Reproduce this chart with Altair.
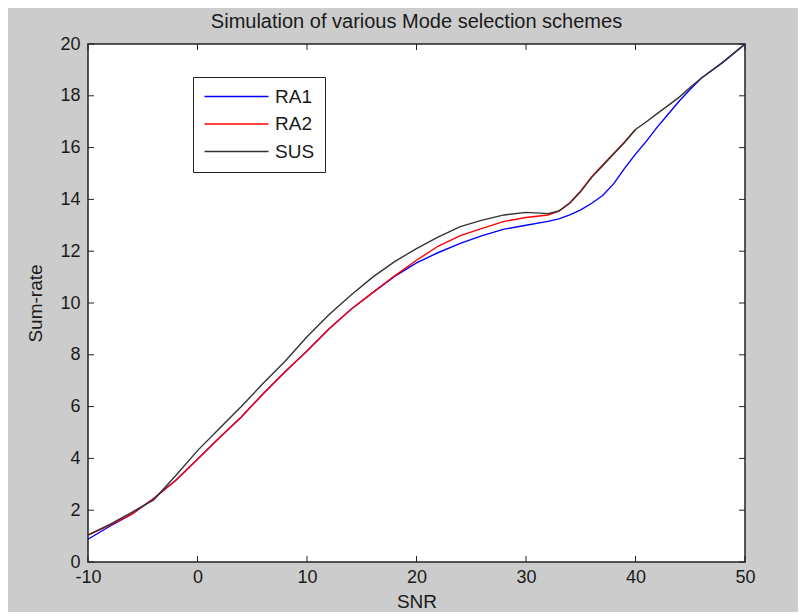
import altair as alt
import pandas as pd

# ---- data ----
snr = [-10, -8, -6, -4, -2, 0, 2, 4, 6, 8, 10, 12, 14, 16, 18, 20, 22, 24, 26, 28, 30,
       32, 33, 34, 35, 36, 37, 38, 39, 40, 41, 42, 43, 44, 45, 46, 48, 50]
ra1 = [0.88, 1.38, 1.85, 2.45, 3.15, 3.97, 4.8, 5.6, 6.5, 7.35, 8.15, 9.0, 9.75, 10.4, 11.03,
       11.55, 11.95, 12.3, 12.6, 12.85, 13.0, 13.15, 13.25, 13.4, 13.6, 13.85, 14.15, 14.6,
       15.2, 15.75, 16.25, 16.8, 17.3, 17.8, 18.25, 18.68, 19.3, 20.0]
ra2 = [1.04, 1.42, 1.85, 2.45, 3.15, 3.97, 4.8, 5.6, 6.5, 7.35, 8.15, 9.0, 9.75, 10.4, 11.05,
       11.65, 12.2, 12.6, 12.88, 13.15, 13.3, 13.4, 13.55, 13.87, 14.33, 14.88, 15.33, 15.77,
       16.22, 16.7, None, None, None, None, None, None, None, None]
sus = [1.04, 1.45, 1.92, 2.4, 3.33, 4.3, 5.15, 6.0, 6.9, 7.75, 8.7, 9.55, 10.3, 11.0, 11.6,
       12.1, 12.55, 12.95, 13.2, 13.4, 13.5, 13.45, 13.55, 13.85, 14.3, 14.85, 15.3, 15.75,
       16.2, 16.7, 17.0, 17.32, 17.63, 17.95, 18.33, 18.68, 19.3, 20.0]
series = ["RA1", "RA2", "SUS"]
colors = ["#0000ff", "#ff0000", "#333333"]
x_ticks = [-10, 0, 10, 20, 30, 40, 50]
y_ticks = [0, 2, 4, 6, 8, 10, 12, 14, 16, 18, 20]

rows = []
for name, vals in zip(series, [ra1, ra2, sus]):
    for x, y in zip(snr, vals):
        if y is not None:
            rows.append({"snr": x, "rate": y, "series": name})
df = pd.DataFrame(rows)

W, H = 657, 518
FONT = "Liberation Sans"
TXT = "#1a1a1a"
TICK = 6

xscale = alt.Scale(domain=[-10, 50], nice=False, zero=False)
yscale = alt.Scale(domain=[0, 20], nice=False, zero=False)

xaxis = alt.Axis(values=x_ticks, title="SNR", grid=False, tickSize=0, domain=False,
                 labelPadding=6, titlePadding=6, labelFontSize=18, titleFontSize=19,
                 labelFont=FONT, titleFont=FONT, labelColor=TXT, titleColor=TXT,
                 titleFontWeight="normal", labelFlush=False,
                 labelExpr="replace(datum.label, '\u2212', '-')")
yaxis = alt.Axis(values=y_ticks, title="Sum-rate", grid=False, tickSize=0, domain=False,
                 labelPadding=8, titlePadding=14, labelFontSize=18, titleFontSize=19,
                 labelFont=FONT, titleFont=FONT, labelColor=TXT, titleColor=TXT,
                 titleFontWeight="normal", labelFlush=False)

lines = alt.Chart(df).mark_line(strokeWidth=1.4, clip=True).encode(
    x=alt.X("snr:Q", scale=xscale, axis=xaxis),
    y=alt.Y("rate:Q", scale=yscale, axis=yaxis),
    color=alt.Color(
        "series:N",
        scale=alt.Scale(domain=series, range=colors),
        legend=alt.Legend(
            title=None, orient="none", legendX=105, legendY=33,
            symbolType="M-4,0H4", symbolSize=256, symbolStrokeWidth=1.5,
            symbolOffset=24, symbolFillColor="transparent",
            labelFont=FONT, labelFontSize=19, labelColor=TXT, labelOffset=29,
            rowPadding=7.5, padding=10, strokeColor="#222222", fillColor="white",
        ),
    ),
)

xt = pd.DataFrame({"snr": x_ticks})
yt = pd.DataFrame({"rate": y_ticks})

x_bottom = alt.Chart(xt).mark_rule(color="#222222", strokeWidth=1).encode(
    x=alt.X("snr:Q", scale=xscale, axis=xaxis), y=alt.value(H), y2=alt.value(H - TICK))
x_top = alt.Chart(xt).mark_rule(color="#222222", strokeWidth=1).encode(
    x=alt.X("snr:Q", scale=xscale, axis=xaxis), y=alt.value(0), y2=alt.value(TICK))
y_left = alt.Chart(yt).mark_rule(color="#222222", strokeWidth=1).encode(
    y=alt.Y("rate:Q", scale=yscale, axis=yaxis), x=alt.value(0), x2=alt.value(TICK))
y_right = alt.Chart(yt).mark_rule(color="#222222", strokeWidth=1).encode(
    y=alt.Y("rate:Q", scale=yscale, axis=yaxis), x=alt.value(W), x2=alt.value(W - TICK))

chart = alt.layer(x_bottom, x_top, y_left, y_right, lines).properties(
    width=W, height=H,
    title=alt.TitleParams("Simulation of various Mode selection schemes", font=FONT,
                          fontSize=20, fontWeight="normal", color=TXT, anchor="middle",
                          frame="group", offset=3),
    background="#cccccc",
    padding={"left": 80, "top": 36, "right": 53, "bottom": 50},
    autosize=alt.AutoSizeParams(type="none"),
).configure_view(stroke="#222222", strokeWidth=1.5, fill="white")

chart.save("out.html", embed_options={"renderer": "svg", "actions": False})
